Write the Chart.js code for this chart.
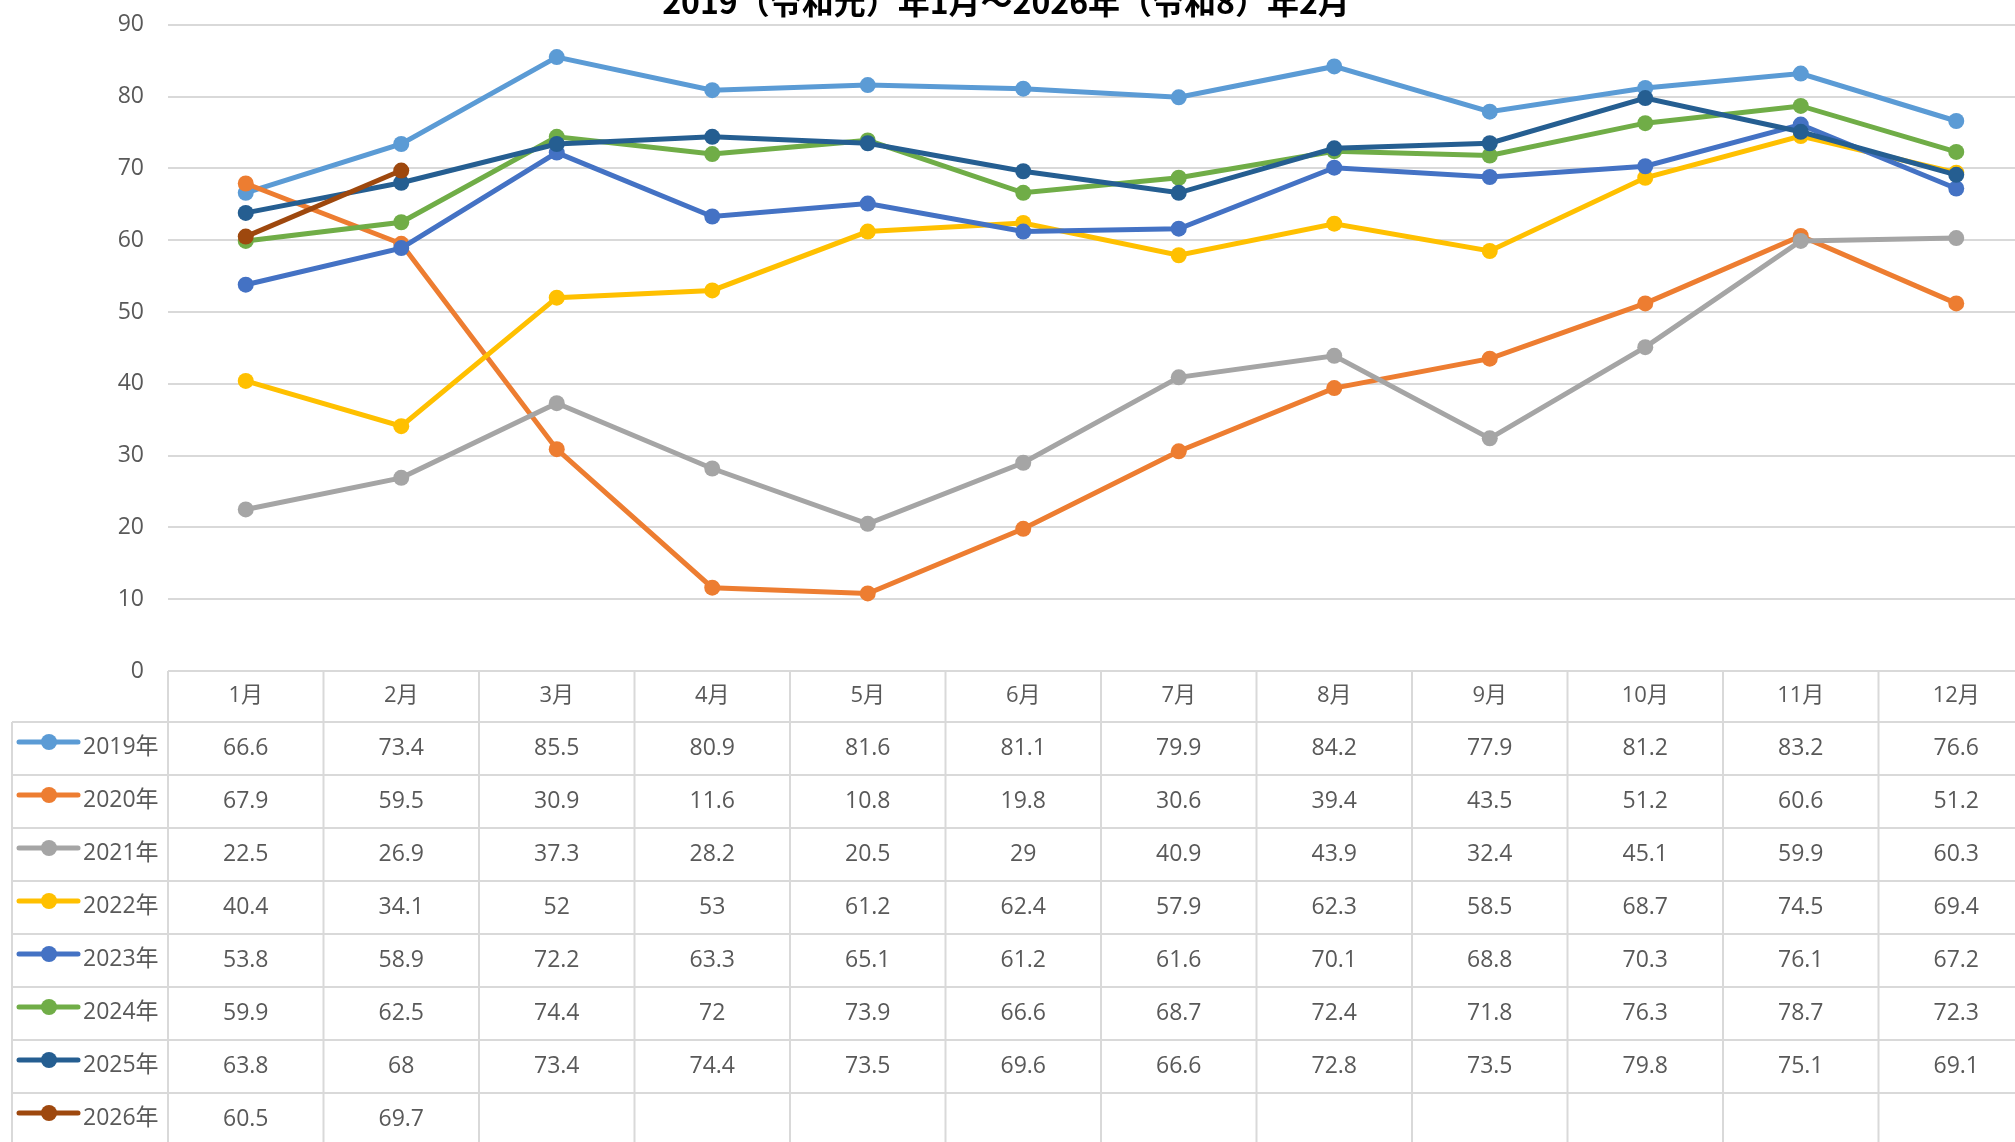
<!DOCTYPE html>
<html>
<head>
<meta charset="utf-8">
<script src="https://cdn.jsdelivr.net/npm/chart.js@4.4.1/dist/chart.umd.min.js"></script>
<style>
  html, body { margin: 0; padding: 0; background: #fff; overflow: hidden; }
  #wrap { width: 2015px; height: 1142px; overflow: hidden; position: relative; }
  #chart { position: absolute; left: 0; top: -13px; }
</style>
</head>
<body>
<div id="wrap"><canvas id="chart" width="2070" height="1155"></canvas></div>
<script>
/* ---------------- DATA ---------------- */
const titleText = "2019（令和元）年1月～2026年（令和8）年2月";
const months = ["1月", "2月", "3月", "4月", "5月", "6月", "7月", "8月", "9月", "10月", "11月", "12月"];
const years = ["2019年", "2020年", "2021年", "2022年", "2023年", "2024年", "2025年", "2026年"];
const yTicks = [0, 10, 20, 30, 40, 50, 60, 70, 80, 90];

const v2019 = [66.6, 73.4, 85.5, 80.9, 81.6, 81.1, 79.9, 84.2, 77.9, 81.2, 83.2, 76.6];
const v2020 = [67.9, 59.5, 30.9, 11.6, 10.8, 19.8, 30.6, 39.4, 43.5, 51.2, 60.6, 51.2];
const v2021 = [22.5, 26.9, 37.3, 28.2, 20.5, 29, 40.9, 43.9, 32.4, 45.1, 59.9, 60.3];
const v2022 = [40.4, 34.1, 52, 53, 61.2, 62.4, 57.9, 62.3, 58.5, 68.7, 74.5, 69.4];
const v2023 = [53.8, 58.9, 72.2, 63.3, 65.1, 61.2, 61.6, 70.1, 68.8, 70.3, 76.1, 67.2];
const v2024 = [59.9, 62.5, 74.4, 72, 73.9, 66.6, 68.7, 72.4, 71.8, 76.3, 78.7, 72.3];
const v2025 = [63.8, 68, 73.4, 74.4, 73.5, 69.6, 66.6, 72.8, 73.5, 79.8, 75.1, 69.1];
const v2026 = [60.5, 69.7];

const seriesValues = [v2019, v2020, v2021, v2022, v2023, v2024, v2025, v2026];
const seriesColors = ["#5B9BD5", "#ED7D31", "#A5A5A5", "#FFC000", "#4472C4", "#70AD47", "#255E91", "#9E480E"];

/* ---------------- STYLE ---------------- */
const GRID = "#D9D9D9";
const TEXT = "#595959";
const FONT = '"Open Sans", "Noto Sans CJK JP", sans-serif';

const HEADER_H = 51;
const ROW_H = 53;
const LEGEND_LEFT = 12;

/* ----------------------------------------------------------
   TITLE (sits partly above the visible area, as in the original)
---------------------------------------------------------- */
const titlePlugin = {
  id: "cutTitle",
  afterDraw(chart) {
    const ctx = chart.ctx;
    ctx.save();
    ctx.font = 'bold 32px "Noto Sans CJK JP", sans-serif';
    ctx.fillStyle = "#000";
    ctx.textAlign = "center";
    ctx.textBaseline = "alphabetic";
    ctx.fillText(titleText, 1006, 27);
    ctx.restore();
  }
};

/* ----------------------------------------------------------
   DATA TABLE under the plot (Excel style)
---------------------------------------------------------- */
const tablePlugin = {
  id: "dataTable",
  afterDraw(chart) {
    const ctx = chart.ctx;
    const x = chart.scales.x;
    const area = chart.chartArea;
    const colW = x.getPixelForValue(1) - x.getPixelForValue(0);
    const left = x.getPixelForValue(0) - colW / 2;
    const right = left + colW * months.length;
    const top = area.bottom;
    const rowTop = top + HEADER_H;
    const bottom = rowTop + ROW_H * years.length;

    ctx.save();
    ctx.strokeStyle = GRID;
    ctx.lineWidth = 2;

    // horizontal lines
    ctx.beginPath();
    ctx.moveTo(left, top); ctx.lineTo(right, top);
    for (let r = 0; r <= years.length; r++) {
      const y = rowTop + r * ROW_H;
      ctx.moveTo(LEGEND_LEFT, y); ctx.lineTo(right, y);
    }
    // vertical lines
    ctx.moveTo(LEGEND_LEFT, rowTop); ctx.lineTo(LEGEND_LEFT, bottom);
    for (let c = 0; c <= months.length; c++) {
      const cx = left + c * colW;
      ctx.moveTo(cx, top); ctx.lineTo(cx, bottom);
    }
    ctx.stroke();

    // header
    ctx.fillStyle = TEXT;
    ctx.font = "22px " + FONT;
    ctx.textAlign = "center";
    ctx.textBaseline = "middle";
    months.forEach((m, i) => {
      ctx.fillText(m, x.getPixelForValue(i), top + HEADER_H / 2 - 1);
    });

    // rows
    ctx.font = "23px " + FONT;
    seriesValues.forEach((vals, r) => {
      const cy = rowTop + r * ROW_H + ROW_H / 2;
      vals.forEach((v, i) => {
        ctx.textAlign = "center";
        ctx.fillText(String(v), x.getPixelForValue(i), cy);
      });

      // legend key
      const ly = rowTop + r * ROW_H + 20;
      ctx.strokeStyle = seriesColors[r];
      ctx.lineWidth = 5;
      ctx.lineCap = "round";
      ctx.beginPath();
      ctx.moveTo(LEGEND_LEFT + 7, ly); ctx.lineTo(LEGEND_LEFT + 66, ly);
      ctx.stroke();
      ctx.fillStyle = seriesColors[r];
      ctx.beginPath();
      ctx.arc(LEGEND_LEFT + 37, ly, 8, 0, Math.PI * 2);
      ctx.fill();

      ctx.fillStyle = TEXT;
      ctx.textAlign = "left";
      ctx.fillText(years[r], LEGEND_LEFT + 71, cy - 1);
    });
    ctx.restore();
  }
};

/* ----------------------------------------------------------
   CHART
---------------------------------------------------------- */
const datasets = seriesValues.map((vals, i) => ({
  label: years[i],
  data: vals,
  borderColor: seriesColors[i],
  backgroundColor: seriesColors[i],
  borderWidth: 5,
  pointRadius: 8,
  pointHoverRadius: 8,
  pointBorderWidth: 0,
  tension: 0,
  order: seriesValues.length - i
}));

new Chart(document.getElementById("chart"), {
  type: "line",
  data: { labels: months, datasets },
  options: {
    responsive: false,
    animation: false,
    layout: { padding: { top: 9, right: 36, bottom: 471, left: 0 } },
    plugins: {
      legend: { display: false },
      title: { display: false },
      tooltip: { enabled: false }
    },
    scales: {
      x: {
        offset: true,
        display: false
      },
      y: {
        min: 0,
        max: 90,
        afterBuildTicks: s => { s.ticks = yTicks.map(v => ({ value: v })); },
        afterFit: s => { s.width = 168; },
        border: { display: false },
        grid: { color: GRID, lineWidth: 2, drawTicks: false },
        ticks: {
          color: TEXT,
          padding: 24,
          font: { size: 23, family: FONT }
        }
      }
    }
  },
  plugins: [titlePlugin, tablePlugin]
});
</script>
</body>
</html>
